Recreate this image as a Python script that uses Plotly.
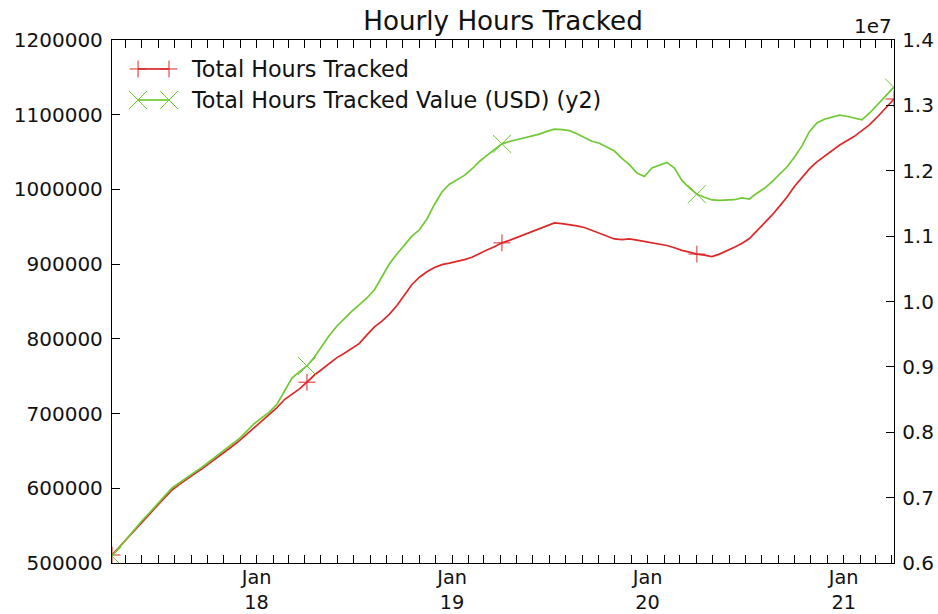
import pandas as pd
import plotly.graph_objects as go

# ---- data ----
dates = list(pd.date_range("2017-04-06", periods=105, freq="14D")) + [pd.Timestamp("2021-04-05")]

hours_tracked = [
    510700, 521400, 532100, 542800, 554200, 565500, 576400, 587100, 597700, 605200,
    612800, 619400, 626000, 633200, 640800, 648400, 655900, 663700, 672500, 681500,
    689800, 698100, 708000, 718800, 726100, 733100, 742000, 751600, 759300, 767700,
    774900, 780800, 787000, 794000, 805300, 816100, 823800, 833100, 844700, 858200,
    872800, 882500, 889800, 895600, 899400, 901400, 903400, 906100, 909200, 914500,
    918900, 923400, 928500, 931800, 935800, 939800, 944000, 948100, 952000, 955100,
    954300, 953100, 951200, 949100, 945400, 942000, 937800, 933700, 932900, 933700,
    932100, 930200, 928600, 926800, 925000, 921900, 918400, 916100, 913500, 912000,
    910200, 913400, 917600, 922600, 927600, 934300, 944400, 954400, 965500, 977300,
    989600, 1003900, 1016100, 1027500, 1036800, 1044600, 1052400, 1059100, 1065100, 1071100,
    1078700, 1086400, 1096300, 1107300, 1118400, 1121000,
]

hours_value_usd = [
    6107000, 6243000, 6381000, 6517000, 6646000, 6768000, 6890000, 7019000, 7147000, 7227000,
    7305000, 7386000, 7467000, 7553000, 7640000, 7727000, 7813000, 7905000, 8019000, 8134000,
    8224000, 8311000, 8428000, 8620000, 8830000, 8928000, 9014000, 9151000, 9312000, 9484000,
    9625000, 9740000, 9852000, 9953000, 10054000, 10180000, 10375000, 10578000, 10728000, 10867000,
    10999000, 11097000, 11262000, 11484000, 11675000, 11794000, 11863000, 11929000, 12027000, 12142000,
    12235000, 12324000, 12412000, 12447000, 12475000, 12503000, 12532000, 12561000, 12603000, 12637000,
    12629000, 12613000, 12565000, 12506000, 12452000, 12421000, 12366000, 12301000, 12190000, 12094000,
    11966000, 11912000, 12042000, 12080000, 12128000, 12042000, 11852000, 11738000, 11641000, 11594000,
    11553000, 11548000, 11552000, 11557000, 11586000, 11568000, 11657000, 11732000, 11831000, 11944000,
    12057000, 12207000, 12376000, 12597000, 12730000, 12788000, 12825000, 12851000, 12834000, 12807000,
    12778000, 12880000, 12997000, 13123000, 13249000, 13273000,
]

marker_idx = [0, 26, 52, 78, 105]

y2_tickvals = [6e6, 7e6, 8e6, 9e6, 10e6, 11e6, 12e6, 13e6, 14e6]
y2_ticktext = ["0.6", "0.7", "0.8", "0.9", "1.0", "1.1", "1.2", "1.3", "1.4"]

series_names = ["Total Hours Tracked", "Total Hours Tracked Value (USD) (y2)"]
title_text = "Hourly Hours Tracked"

# ---- style ----
RED = "#dc2828"
GREEN = "#70c934"
FONT = "DejaVu Sans"
TICK_FS = 20
TXT = "#111111"

fig = go.Figure()

fig.add_trace(go.Scatter(x=dates, y=hours_tracked, mode="lines",
                         line=dict(color=RED, width=1.7), yaxis="y",
                         showlegend=False, hoverinfo="skip"))
fig.add_trace(go.Scatter(x=[dates[i] for i in marker_idx],
                         y=[hours_tracked[i] for i in marker_idx], mode="markers",
                         marker=dict(symbol="cross-thin", size=12, color=RED,
                                     line=dict(color=RED, width=1)),
                         yaxis="y", showlegend=False, hoverinfo="skip"))
fig.add_trace(go.Scatter(x=dates, y=hours_value_usd, mode="lines",
                         line=dict(color=GREEN, width=1.7), yaxis="y2",
                         showlegend=False, hoverinfo="skip"))
fig.add_trace(go.Scatter(x=[dates[i] for i in marker_idx],
                         y=[hours_value_usd[i] for i in marker_idx], mode="markers",
                         marker=dict(symbol="x-thin", size=18, color=GREEN,
                                     line=dict(color=GREEN, width=1)),
                         yaxis="y2", showlegend=False, hoverinfo="skip"))

# ---- hand-made legend (matplotlib style: marker at both ends of the line) ----
leg_x = [0.0333, 0.0729]
leg_rows = [0.9446, 0.8853]
for (name, col, sym, sz), yy in zip(
        [(series_names[0], RED, "cross-thin", 12), (series_names[1], GREEN, "x-thin", 18)],
        leg_rows):
    fig.add_trace(go.Scatter(x=leg_x, y=[yy, yy], mode="lines+markers",
                             line=dict(color=col, width=1.7),
                             marker=dict(symbol=sym, size=sz, color=col,
                                         line=dict(color=col, width=1)),
                             xaxis="x3", yaxis="y3", showlegend=False,
                             hoverinfo="skip", cliponaxis=False))
    fig.add_annotation(text=name, xref="paper", yref="paper", x=0.0985, y=yy,
                       xanchor="left", yanchor="middle", showarrow=False,
                       font=dict(family=FONT, size=22.3, color=TXT))

fig.add_annotation(text="1e7", xref="paper", yref="paper", x=1.0, y=1.027,
                   xanchor="right", yanchor="middle", showarrow=False,
                   font=dict(family=FONT, size=TICK_FS, color=TXT))

axis_common = dict(showline=True, linecolor="black", linewidth=1.3,
                   ticks="inside", ticklen=8, tickwidth=1, tickcolor="black",
                   showgrid=False, zeroline=False, automargin=False)

fig.update_layout(
    template="none",
    width=938, height=614,
    margin=dict(l=112, r=44, t=40, b=51, autoexpand=False),
    paper_bgcolor="white", plot_bgcolor="white",
    font=dict(family=FONT, color=TXT),
    title=dict(text=title_text, x=0.5, xref="paper", xanchor="center",
               y=0.966, yref="container", yanchor="middle",
               font=dict(family=FONT, size=26.2, color=TXT)),
    xaxis=dict(type="date", range=[dates[0], dates[-1]], mirror="allticks",
               dtick="M12", tick0="2018-01-01", tickformat="%b<br>%y",
               ticklabelstandoff=-3,
               tickfont=dict(family=FONT, size=19.3, color=TXT),
               minor=dict(dtick="M1", tick0="2018-01-01", ticks="inside",
                          ticklen=4, tickcolor="black", showgrid=False),
               **axis_common),
    yaxis=dict(range=[500000, 1200000], dtick=100000, tickformat="d",
               mirror=False, ticklabelstandoff=4,
               tickfont=dict(family=FONT, size=TICK_FS, color=TXT),
               **axis_common),
    yaxis2=dict(range=[6e6, 14e6], overlaying="y", side="right",
                tickvals=y2_tickvals, ticktext=y2_ticktext, ticklabelstandoff=3,
                tickfont=dict(family=FONT, size=TICK_FS, color=TXT),
                **axis_common),
    xaxis3=dict(overlaying="x", anchor="y3", range=[0, 1], visible=False),
    yaxis3=dict(overlaying="y", anchor="x3", range=[0, 1], visible=False),
)

fig.write_html("out.html", config={"displayModeBar": False},
               post_script="document.body.style.margin='0';")
